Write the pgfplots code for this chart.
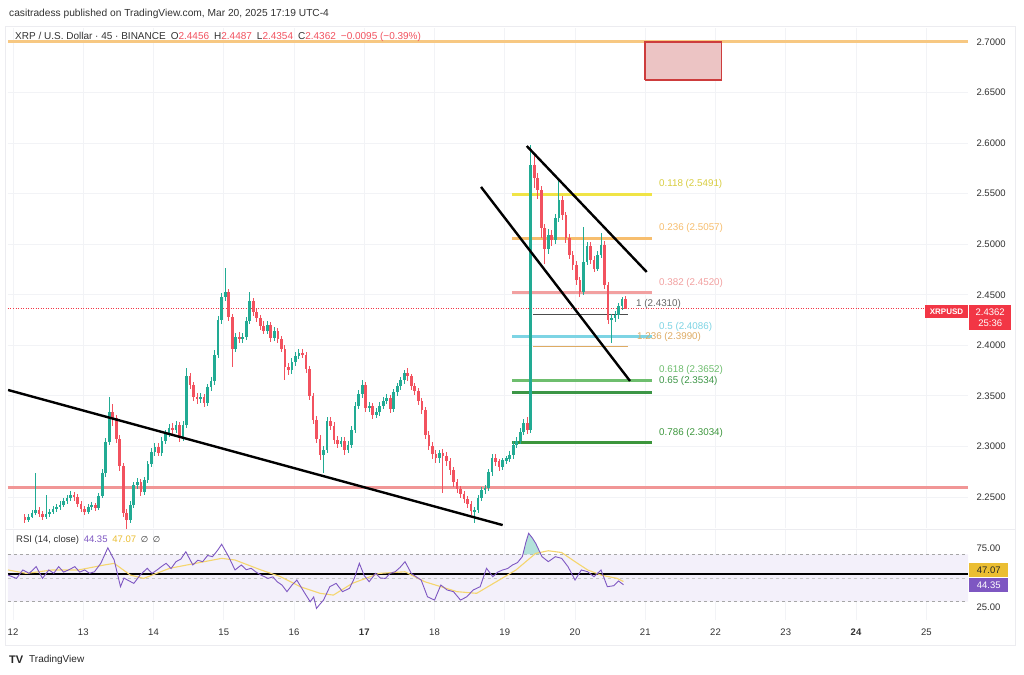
\documentclass[border=0pt]{standalone}
\usepackage{pgfplots}
\pgfplotsset{compat=1.18}
\usepackage{pgfplotstable}
\usepackage{fontspec}
\setmainfont{Liberation Sans}
\newfontfamily\dejavu{DejaVu Sans}
\definecolor{tvup}{RGB}{34,171,148}
\definecolor{tvdn}{RGB}{242,82,95}
\definecolor{tvred}{RGB}{242,54,69}
\definecolor{fibY}{RGB}{240,228,70}
\definecolor{fibO}{RGB}{247,190,110}
\definecolor{fibR}{RGB}{242,160,160}
\definecolor{fibC}{RGB}{125,212,228}
\definecolor{fibG}{RGB}{110,190,110}
\definecolor{fibG2}{RGB}{60,150,70}
\definecolor{fibG3}{RGB}{60,150,60}
\definecolor{topO}{RGB}{247,200,130}
\definecolor{pinkL}{RGB}{241,150,150}
\definecolor{boxF}{RGB}{236,196,196}
\definecolor{boxD}{RGB}{205,60,60}
\definecolor{rsiP}{RGB}{126,87,194}
\definecolor{rsiY}{RGB}{245,214,110}
\definecolor{rsiYd}{RGB}{235,190,50}
\definecolor{band}{RGB}{243,240,250}
\definecolor{gridc}{RGB}{242,243,246}
\definecolor{frame}{RGB}{236,236,240}
\definecolor{txt}{RGB}{50,50,50}
\newcommand\fs[1]{\fontsize{#1}{#1}\selectfont}

\pgfplotstableread{
d o h l c
12.17 2.2300 2.2330 2.2240 2.2272
12.22 2.2272 2.2330 2.2250 2.2302
12.27 2.2302 2.2370 2.2290 2.2341
12.32 2.2341 2.2737 2.2320 2.2371
12.37 2.2371 2.2400 2.2300 2.2332
12.42 2.2332 2.2360 2.2270 2.2302
12.47 2.2302 2.2519 2.2280 2.2332
12.52 2.2332 2.2380 2.2300 2.2351
12.57 2.2351 2.2410 2.2330 2.2381
12.62 2.2381 2.2430 2.2350 2.2401
12.67 2.2401 2.2460 2.2370 2.2421
12.72 2.2421 2.2490 2.2400 2.2460
12.77 2.2460 2.2520 2.2430 2.2490
12.82 2.2490 2.2560 2.2460 2.2519
12.87 2.2519 2.2550 2.2460 2.2500
12.92 2.2500 2.2530 2.2400 2.2430
12.97 2.2430 2.2460 2.2350 2.2381
13.02 2.2381 2.2410 2.2320 2.2351
13.07 2.2351 2.2430 2.2330 2.2401
13.12 2.2401 2.2450 2.2370 2.2420
13.17 2.2420 2.2440 2.2360 2.2391
13.22 2.2391 2.2540 2.2370 2.2510
13.27 2.2510 2.2780 2.2490 2.2737
13.32 2.2737 2.3080 2.2700 2.3044
13.37 2.3044 2.3490 2.3010 2.3340
13.42 2.3340 2.3420 2.3200 2.3281
13.47 2.3281 2.3310 2.3030 2.3073
13.52 2.3073 2.3110 2.2760 2.2806
13.57 2.2806 2.2840 2.2300 2.2341
13.62 2.2341 2.2380 2.2180 2.2272
13.67 2.2272 2.2460 2.2240 2.2421
13.72 2.2421 2.2650 2.2390 2.2618
13.77 2.2618 2.2690 2.2580 2.2648
13.82 2.2648 2.2680 2.2510 2.2549
13.87 2.2549 2.2700 2.2520 2.2668
13.92 2.2668 2.2860 2.2640 2.2826
13.97 2.2826 2.2980 2.2800 2.2945
14.02 2.2945 2.3030 2.2910 2.2994
14.07 2.2994 2.3030 2.2910 2.2940
14.12 2.2940 2.3090 2.2910 2.3054
14.17 2.3054 2.3160 2.3020 2.3123
14.22 2.3123 2.3220 2.3090 2.3182
14.27 2.3182 2.3230 2.3120 2.3162
14.32 2.3162 2.3250 2.3130 2.3212
14.37 2.3212 2.3240 2.3040 2.3083
14.42 2.3083 2.3250 2.3050 2.3212
14.47 2.3212 2.3775 2.3180 2.3696
14.52 2.3696 2.3730 2.3570 2.3607
14.57 2.3607 2.3640 2.3450 2.3489
14.62 2.3489 2.3530 2.3420 2.3469
14.67 2.3469 2.3530 2.3430 2.3489
14.72 2.3489 2.3520 2.3390 2.3429
14.77 2.3429 2.3620 2.3400 2.3588
14.82 2.3588 2.3690 2.3550 2.3647
14.87 2.3647 2.3950 2.3610 2.3904
14.92 2.3904 2.4290 2.3870 2.4250
14.97 2.4250 2.4520 2.4210 2.4478
15.02 2.4478 2.4765 2.4440 2.4527
15.07 2.4527 2.4560 2.4240 2.4280
15.12 2.4280 2.4310 2.3785 2.3963
15.17 2.3963 2.4120 2.3930 2.4082
15.22 2.4082 2.4130 2.4020 2.4062
15.27 2.4062 2.4120 2.4020 2.4082
15.32 2.4082 2.4280 2.4050 2.4240
15.37 2.4240 2.4527 2.4210 2.4438
15.42 2.4438 2.4470 2.4290 2.4329
15.47 2.4329 2.4360 2.4230 2.4270
15.52 2.4270 2.4300 2.4150 2.4191
15.57 2.4191 2.4240 2.4110 2.4150
15.62 2.4150 2.4240 2.4110 2.4200
15.67 2.4200 2.4230 2.4030 2.4072
15.72 2.4072 2.4180 2.4040 2.4141
15.77 2.4141 2.4170 2.4020 2.4062
15.82 2.4062 2.4090 2.3930 2.3963
15.87 2.3963 2.4000 2.3657 2.3785
15.92 2.3785 2.3820 2.3710 2.3756
15.97 2.3756 2.3870 2.3720 2.3835
16.02 2.3835 2.3930 2.3800 2.3894
16.07 2.3894 2.3960 2.3860 2.3924
16.12 2.3924 2.3960 2.3870 2.3904
16.17 2.3904 2.3930 2.3730 2.3766
16.22 2.3766 2.3800 2.3460 2.3499
16.27 2.3499 2.3530 2.3220 2.3261
16.32 2.3261 2.3300 2.3030 2.3073
16.37 2.3073 2.3110 2.2870 2.2915
16.42 2.2915 2.3000 2.2737 2.2965
16.47 2.2965 2.3290 2.2930 2.3251
16.52 2.3251 2.3290 2.3160 2.3202
16.57 2.3202 2.3240 2.3020 2.3063
16.62 2.3063 2.3100 2.2980 2.3024
16.67 2.3024 2.3090 2.2990 2.3054
16.72 2.3054 2.3090 2.2920 2.2965
16.77 2.2965 2.3050 2.2930 2.3014
16.82 2.3014 2.3200 2.2980 2.3162
16.87 2.3162 2.3440 2.3130 2.3400
16.92 2.3400 2.3560 2.3370 2.3518
16.97 2.3518 2.3657 2.3480 2.3607
17.02 2.3607 2.3640 2.3340 2.3380
17.07 2.3380 2.3440 2.3340 2.3400
17.12 2.3400 2.3430 2.3270 2.3311
17.17 2.3311 2.3380 2.3280 2.3340
17.22 2.3340 2.3440 2.3300 2.3400
17.27 2.3400 2.3490 2.3370 2.3450
17.32 2.3450 2.3520 2.3420 2.3479
17.37 2.3479 2.3510 2.3330 2.3370
17.42 2.3370 2.3570 2.3340 2.3538
17.47 2.3538 2.3630 2.3500 2.3598
17.52 2.3598 2.3690 2.3560 2.3657
17.57 2.3657 2.3760 2.3620 2.3726
17.62 2.3726 2.3775 2.3650 2.3696
17.67 2.3696 2.3720 2.3560 2.3598
17.72 2.3598 2.3630 2.3510 2.3548
17.77 2.3548 2.3580 2.3410 2.3449
17.82 2.3449 2.3480 2.3320 2.3360
17.87 2.3360 2.3390 2.3070 2.3113
17.92 2.3113 2.3150 2.2960 2.3004
17.97 2.3004 2.3040 2.2880 2.2925
18.02 2.2925 2.2960 2.2840 2.2885
18.07 2.2885 2.2960 2.2840 2.2930
18.12 2.2930 2.2970 2.2539 2.2905
18.17 2.2905 2.2940 2.2810 2.2856
18.22 2.2856 2.2890 2.2720 2.2767
18.27 2.2767 2.2800 2.2600 2.2648
18.32 2.2648 2.2680 2.2540 2.2579
18.37 2.2579 2.2610 2.2490 2.2529
18.42 2.2529 2.2560 2.2440 2.2480
18.47 2.2480 2.2510 2.2390 2.2430
18.52 2.2430 2.2460 2.2320 2.2361
18.57 2.2361 2.2400 2.2243 2.2371
18.62 2.2371 2.2520 2.2340 2.2490
18.67 2.2490 2.2600 2.2460 2.2569
18.72 2.2569 2.2620 2.2530 2.2589
18.77 2.2589 2.2780 2.2560 2.2747
18.82 2.2747 2.2920 2.2710 2.2885
18.87 2.2885 2.2920 2.2810 2.2850
18.92 2.2850 2.2880 2.2760 2.2800
18.97 2.2800 2.2890 2.2770 2.2860
19.02 2.2860 2.2910 2.2830 2.2880
19.07 2.2880 2.2950 2.2850 2.2915
19.12 2.2915 2.3050 2.2880 2.3014
19.17 2.3014 2.3090 2.2980 2.3054
19.22 2.3054 2.3180 2.3020 2.3143
19.27 2.3143 2.3270 2.3110 2.3232
19.32 2.3232 2.3290 2.3120 2.3162
19.37 2.3162 2.5981 2.3130 2.5783
19.42 2.5783 2.5900 2.5560 2.5655
19.47 2.5655 2.5700 2.5450 2.5536
19.52 2.5536 2.5580 2.5060 2.5160
19.57 2.5160 2.5200 2.4800 2.4952
19.62 2.4952 2.5150 2.4900 2.5091
19.67 2.5091 2.5140 2.4980 2.5041
19.72 2.5041 2.5300 2.5000 2.5259
19.77 2.5259 2.5635 2.5220 2.5437
19.82 2.5437 2.5480 2.5240 2.5289
19.87 2.5289 2.5320 2.5010 2.5061
19.92 2.5061 2.5100 2.4850 2.4893
19.97 2.4893 2.4930 2.4740 2.4794
20.02 2.4794 2.4830 2.4600 2.4646
20.07 2.4646 2.4680 2.4480 2.4527
20.12 2.4527 2.5170 2.4500 2.4824
20.17 2.4824 2.5020 2.4790 2.4982
20.22 2.4982 2.5020 2.4800 2.4844
20.27 2.4844 2.4880 2.4720 2.4760
20.32 2.4760 2.4930 2.4730 2.4893
20.37 2.4893 2.5110 2.4860 2.4992
20.42 2.4992 2.5030 2.4560 2.4596
20.47 2.4596 2.4630 2.4210 2.4250
20.52 2.4250 2.4310 2.4022 2.4270
20.57 2.4270 2.4340 2.4230 2.4300
20.62 2.4300 2.4420 2.4260 2.4389
20.67 2.4389 2.4480 2.4350 2.4456
20.72 2.4456 2.4487 2.4354 2.4362
}\candles

\begin{document}
\begin{tikzpicture}
\begin{scope}[x=1pt,y=-1pt]
\path[use as bounding box, fill=white] (0,0) rectangle (1024,674);
\draw[frame, line width=0.8pt] (5,26) rectangle (1015,645);
\draw[frame, line width=0.8pt] (5,529) -- (1015,529);
\end{scope}

% ---------------- price panel ----------------
\begin{axis}[at={(8pt,-28pt)}, anchor=north west, scale only axis,
  width=960pt, height=500pt,
  xmin=11.9288, xmax=25.594, ymin=2.2193, ymax=2.7138,
  axis line style={draw=none}, tick style={draw=none},
  xtick={12,...,25}, xticklabels={},
  ytick={2.25,2.3,2.35,2.4,2.45,2.5,2.55,2.6,2.65,2.7},
  yticklabels={2.2500,2.3000,2.3500,2.4000,2.4500,2.5000,2.5500,2.6000,2.6500,2.7000},
  yticklabel pos=right,
  yticklabel style={font=\fs{9.5}, text=txt, anchor=west, xshift=5pt},
  grid=major, major grid style={draw=gridc, line width=0.8pt},
  candle/.style={draw=none, mark=none, error bars/y dir=both, error bars/y explicit, error bars/error mark=none},
]
% horizontal levels
\addplot[pinkL, line width=3pt] coordinates {(11.9288,2.2590) (25.594,2.2590)};
\addplot[topO, line width=3pt] coordinates {(11.9288,2.7000) (25.594,2.7000)};
\addplot[tvred, line width=0.7pt, dash pattern=on 1pt off 1.5pt] coordinates {(11.9288,2.4362) (24.986,2.4362)};
% target box
\addplot[fill=boxF, draw=boxD, line width=1.2pt] coordinates {(20.997,2.6624) (22.09,2.6624) (22.09,2.7000) (20.997,2.7000) (20.997,2.6624)};
% fib levels
\addplot[fibY,  line width=3pt] coordinates {(19.103,2.5491) (21.096,2.5491)};
\addplot[fibO,  line width=3pt] coordinates {(19.103,2.5057) (21.096,2.5057)};
\addplot[fibR,  line width=3pt] coordinates {(19.103,2.4520) (21.096,2.4520)};
\addplot[fibC,  line width=3pt] coordinates {(19.103,2.4086) (21.096,2.4086)};
\addplot[fibG,  line width=3pt] coordinates {(19.103,2.3652) (21.096,2.3652)};
\addplot[fibG2, line width=3pt] coordinates {(19.103,2.3534) (21.096,2.3534)};
\addplot[fibG3, line width=3pt] coordinates {(19.103,2.3034) (21.096,2.3034)};
\addplot[black!70, line width=0.8pt] coordinates {(19.404,2.4310) (20.757,2.4310)};
\addplot[fibO!90!black, line width=0.8pt] coordinates {(19.404,2.3990) (20.757,2.3990)};
% candles: wicks
\addplot[candle, restrict expr to domain={\thisrow{c}-\thisrow{o}}{0:1},
  error bars/error bar style={line width=0.9pt, draw=tvup}]
  table[x=d, y expr={(\thisrow{h}+\thisrow{l})/2}, y error expr={(\thisrow{h}-\thisrow{l})/2}] {\candles};
\addplot[candle, restrict expr to domain={\thisrow{c}-\thisrow{o}}{-1:-0.00001},
  error bars/error bar style={line width=0.9pt, draw=tvdn}]
  table[x=d, y expr={(\thisrow{h}+\thisrow{l})/2}, y error expr={(\thisrow{h}-\thisrow{l})/2}] {\candles};
% candles: bodies
\addplot[candle, restrict expr to domain={\thisrow{c}-\thisrow{o}}{0:1},
  error bars/error bar style={line width=2.7pt, draw=tvup}]
  table[x=d, y expr={(\thisrow{o}+\thisrow{c})/2}, y error expr={abs(\thisrow{c}-\thisrow{o})/2+0.0004}] {\candles};
\addplot[candle, restrict expr to domain={\thisrow{c}-\thisrow{o}}{-1:-0.00001},
  error bars/error bar style={line width=2.7pt, draw=tvdn}]
  table[x=d, y expr={(\thisrow{o}+\thisrow{c})/2}, y error expr={abs(\thisrow{c}-\thisrow{o})/2+0.0004}] {\candles};
% trend lines
\addplot[black, line width=2.4pt] coordinates {(11.93,2.3558) (18.97,2.2222)};
\addplot[black, line width=2.4pt] coordinates {(19.313,2.5971) (21.021,2.4725)};
\addplot[black, line width=2.4pt] coordinates {(18.662,2.5566) (20.783,2.3647)};
\end{axis}

% ---------------- RSI panel ----------------
\begin{axis}[at={(8pt,-530pt)}, anchor=north west, scale only axis,
  width=960pt, height=90pt,
  xmin=11.9288, xmax=25.594, ymin=14.6, ymax=90.5,
  axis line style={draw=none}, tick style={draw=none},
  xtick={12,...,25},
  xticklabels={12,13,14,15,16,\textbf{17},18,19,20,21,22,23,\textbf{24},25},
  xticklabel style={font=\fs{9.5}, text=txt, yshift=-5pt},
  ytick={25,75}, yticklabels={25.00,75.00}, yticklabel pos=right,
  yticklabel style={font=\fs{9.5}, text=txt, anchor=west, xshift=5pt},
  xmajorgrids, major grid style={draw=gridc, line width=0.8pt},
]
\addplot[fill=band, draw=none] coordinates {(11.9288,30) (25.594,30) (25.594,70) (11.9288,70) (11.9288,30)};
\addplot[gray!70, line width=0.6pt, dash pattern=on 3pt off 3pt] coordinates {(11.9288,70) (25.594,70)};
\addplot[gray!45, line width=0.6pt, dash pattern=on 3pt off 3pt] coordinates {(11.9288,50) (25.594,50)};
\addplot[gray!70, line width=0.6pt, dash pattern=on 3pt off 3pt] coordinates {(11.9288,30) (25.594,30)};
\addplot[black, line width=1.4pt] coordinates {(11.9288,53.4) (25.594,53.4)};
% overbought fill
\addplot[fill=tvup!35, draw=none] coordinates {(19.258,70) (19.30,80) (19.34,87.7) (19.39,84) (19.44,79.3) (19.514,70) (19.258,70)};
% RSI-based MA
\addplot[rsiY, line width=1.1pt] coordinates {
(11.93,56.8) (12.19,53.9) (12.56,56.8) (12.93,56.8) (13.30,61.0) (13.44,62.4) (13.67,52.5) (13.86,49.7)
(14.23,58.2) (14.60,62.4) (14.97,66.6) (15.16,65.2) (15.53,56.8) (15.81,51.1) (16.09,42.7) (16.37,37.1)
(16.56,35.6) (16.83,45.5) (17.21,53.9) (17.58,55.3) (17.86,46.9) (18.32,38.5) (18.60,37.1) (18.88,46.9)
(19.16,56.8) (19.44,70.8) (19.62,73.0) (19.81,71.5) (20.00,63.8) (20.18,56.8) (20.37,52.5) (20.60,49.7) (20.69,47.07)};
% RSI
\addplot[rsiP, line width=0.9pt] coordinates {
(11.93,52.5) (12.05,49.7) (12.14,56.8) (12.23,53.9) (12.33,59.6) (12.42,49.7) (12.51,56.8) (12.58,54) (12.65,59.6)
(12.72,55) (12.79,56.8) (12.88,59.6) (12.95,55) (13.02,56.8) (13.09,54) (13.16,55.3) (13.25,62.4) (13.35,75.5)
(13.44,65.2) (13.53,42.7) (13.58,50) (13.63,48.3) (13.72,45.5) (13.81,52.5) (13.91,58.2) (13.98,54) (14.05,56.8)
(14.12,60) (14.18,62.4) (14.25,58) (14.32,63.8) (14.39,66) (14.46,72.2) (14.56,61.0) (14.63,65) (14.70,63.8)
(14.77,69) (14.84,68.0) (14.92,74) (14.97,78.5) (15.07,68.0) (15.16,56.8) (15.25,61.0) (15.32,57) (15.39,58.2)
(15.46,55) (15.53,52.5) (15.63,49.7) (15.70,51) (15.76,46.9) (15.83,44) (15.90,38.5) (15.97,44) (16.04,48.3)
(16.14,38.5) (16.23,30.0) (16.28,34) (16.32,24.4) (16.37,28) (16.42,31.4) (16.51,42.7) (16.60,45.5) (16.69,38.5)
(16.79,41.3) (16.86,50) (16.93,62.4) (17.00,52) (17.07,46.9) (17.16,53.9) (17.23,50) (17.30,49.7) (17.37,54)
(17.44,55.3) (17.51,59) (17.58,63.8) (17.67,53.9) (17.74,51) (17.81,48.3) (17.90,34.2) (18.00,31.4) (18.09,44.1)
(18.18,39.9) (18.27,38.5) (18.37,31.4) (18.46,34.2) (18.55,39.9) (18.65,42.7) (18.74,58.2) (18.83,51.1) (18.90,55)
(18.97,56.8) (19.04,58) (19.11,61.0) (19.18,63) (19.25,68.0) (19.30,80) (19.34,87.7) (19.39,84) (19.44,79.3)
(19.53,68.0) (19.62,63.8) (19.72,68.0) (19.81,66.6) (19.90,59.6) (20.00,48.3) (20.09,56.8) (20.18,55.3) (20.27,51.1)
(20.37,56.8) (20.46,42.7) (20.55,43.5) (20.62,47.5) (20.69,44.35)};
\end{axis}

% ---------------- texts ----------------
\begin{scope}[x=1pt,y=-1pt]
\node[anchor=west, font=\fs{10.2}, text=txt, inner sep=0pt] at (9,14) {casitradess published on TradingView.com, Mar 20, 2025 17:19 UTC-4};
\node[anchor=west, font=\fs{10}, text=txt, inner sep=0pt] at (15,37) {XRP / U.S. Dollar · 45 · BINANCE\enspace O\textcolor{tvdn}{2.4456}\enspace H\textcolor{tvdn}{2.4487}\enspace L\textcolor{tvdn}{2.4354}\enspace C\textcolor{tvdn}{2.4362}\enspace\textcolor{tvdn}{−0.0095 (−0.39\%)}};
% fib labels
\begin{scope}[every node/.style={anchor=west, font=\fs{9.8}, inner sep=0pt}]
\node[text=fibY!90!black] at (659,184) {0.118 (2.5491)};
\node[text=fibO] at (659,228) {0.236 (2.5057)};
\node[text=fibR] at (659,283) {0.382 (2.4520)};
\node[text=black!60] at (636,304) {1 (2.4310)};
\node[text=fibC] at (659,327) {0.5 (2.4086)};
\node[text=fibO!90!black] at (637,337) {1.236 (2.3990)};
\node[text=fibG] at (659,370) {0.618 (2.3652)};
\node[text=fibG2] at (659,381) {0.65 (2.3534)};
\node[text=fibG3] at (659,433) {0.786 (2.3034)};
\end{scope}
% price tags
\node[fill=tvred, text=white, font=\bfseries\fs{8}, inner sep=0pt, minimum width=43pt, minimum height=13pt] at (946.5,311.5) {XRPUSD};
\node[fill=tvred, text=white, font=\fs{9.5}, inner sep=0pt, minimum width=42pt, minimum height=25pt, align=center, anchor=north west] at (969,305) {2.4362\\[1.5pt]25:36};
\node[fill=rsiYd, text=black!85, font=\fs{9.5}, inner sep=0pt, minimum width=39pt, minimum height=14pt, anchor=north west] at (969,563) {47.07};
\node[fill=rsiP, text=white, font=\fs{9.5}, inner sep=0pt, minimum width=39pt, minimum height=14pt, anchor=north west] at (969,578) {44.35};
% RSI legend
\node[anchor=west, font=\fs{9.5}, text=txt, inner sep=0pt] at (16,540) {RSI (14, close)\enspace\textcolor{rsiP}{44.35}\enspace\textcolor{rsiYd}{47.07}\enspace{\dejavu\fs{8.5}∅}\enspace{\dejavu\fs{8.5}∅}};
% logo
\node[anchor=west, font=\bfseries\fs{11}, text=black!85, inner sep=0pt] at (9,660) {TV};
\node[anchor=west, font=\fs{10}, text=black!85, inner sep=0pt] at (29,660) {TradingView};
\end{scope}
\end{tikzpicture}
\end{document}
